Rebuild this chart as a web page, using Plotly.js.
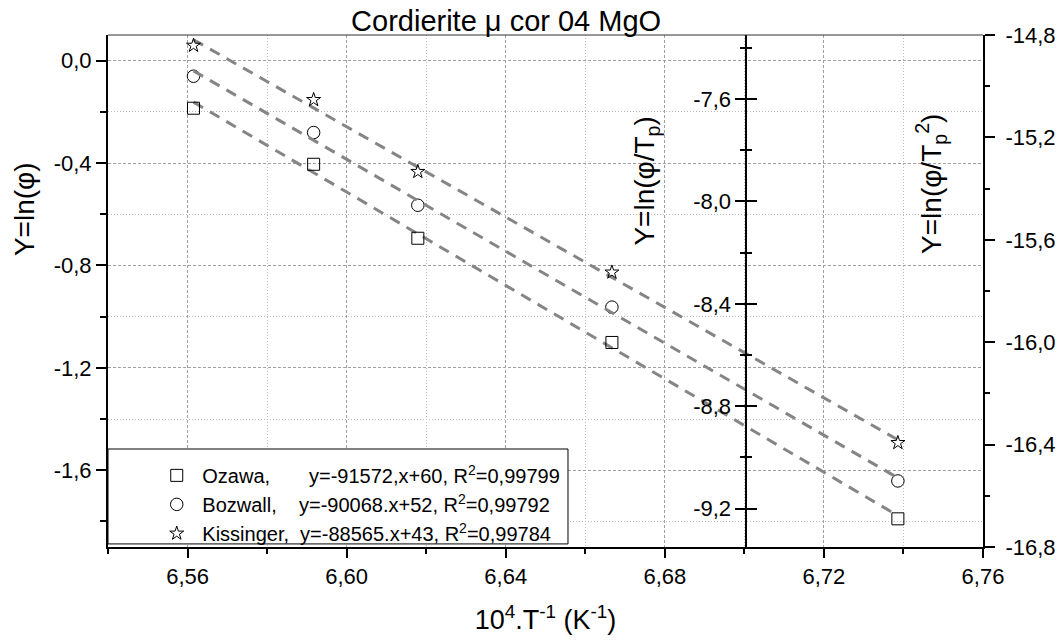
<!DOCTYPE html>
<html><head><meta charset="utf-8">
<script src="https://cdn.plot.ly/plotly-3.0.1.min.js"></script>
<style>html,body{margin:0;padding:0;background:#fff}</style>
</head><body><div id="chart" style="width:1063px;height:643px"></div>
<script>
// ---- data ----
const invT = [6.5615, 6.5917, 6.6179, 6.6667, 6.7386];          // 10^4 / T  (K^-1)
const ozawa = [-0.186, -0.405, -0.694, -1.101, -1.790];          // ln(phi)        left axis
const bozwall = [-7.511, -7.731, -8.015, -8.413, -9.092];        // ln(phi/Tp)     middle axis
const kissinger = [-14.841, -15.053, -15.334, -15.727, -16.393]; // ln(phi/Tp^2)   right axis

const methodNames = ['Ozawa,', 'Bozwall,', 'Kissinger,'];
const methodGaps = [7, 4, 2];
const fitTexts = ['y=-91572,x+60, R<sup>2</sup>=0,99799',
                  'y=-90068.x+52, R<sup>2</sup>=0,99792',
                  'y=-88565.x+43, R<sup>2</sup>=0,99784'];

const xTickVals = [6.56, 6.60, 6.64, 6.68, 6.72, 6.76];
const xTickText = ['6,56', '6,60', '6,64', '6,68', '6,72', '6,76'];
const xMinorVals = [6.54, 6.58, 6.62, 6.66, 6.70, 6.74];
const y1TickVals = [0.0, -0.4, -0.8, -1.2, -1.6];
const y1TickText = ['0,0', '-0,4', '-0,8', '-1,2', '-1,6'];
const y1MinorVals = [-0.2, -0.6, -1.0, -1.4, -1.8];
const y2TickVals = [-7.6, -8.0, -8.4, -8.8, -9.2];
const y2TickText = ['-7,6', '-8,0', '-8,4', '-8,8', '-9,2'];
const y2MinorVals = [-7.4, -7.8, -8.2, -8.6, -9.0];
const y3TickVals = [-14.8, -15.2, -15.6, -16.0, -16.4, -16.8];
const y3TickText = ['-14,8', '-15,2', '-15,6', '-16,0', '-16,4', '-16,8'];
const y3MinorVals = [-15.0, -15.4, -15.8, -16.2, -16.6];

// ---- helpers ----
function linFit(xs, ys) {
  const n = xs.length;
  let sx = 0, sy = 0, sxx = 0, sxy = 0;
  for (let i = 0; i < n; i++) { sx += xs[i]; sy += ys[i]; sxx += xs[i]*xs[i]; sxy += xs[i]*ys[i]; }
  const m = (n*sxy - sx*sy) / (n*sxx - sx*sx);
  const b = (sy - m*sx) / n;
  return {m, b};
}
function fitTrace(ys, yaxis) {
  const f = linFit(invT, ys);
  const xe = [invT[0], invT[invT.length-1]];
  return {x: xe, y: xe.map(v => f.m*v + f.b), yaxis: yaxis, mode: 'lines', showlegend: false,
          hoverinfo: 'skip', line: {color: '#858585', width: 3, dash: '11px,8px'}};
}
const nb = n => '\u00A0'.repeat(n);
function legendName(i) { return nb(1) + methodNames[i] + nb(methodGaps[i]) + fitTexts[i]; }

const FONT = 'Arial, "Liberation Sans", sans-serif';
const markerLine = {color: 'black', width: 1};

const traces = [
  {x: invT, y: ozawa, yaxis: 'y', mode: 'markers', name: legendName(0),
   marker: {symbol: 'square-open', size: 12, color: 'black', line: markerLine}},
  {x: invT, y: bozwall, yaxis: 'y2', mode: 'markers', name: legendName(1),
   marker: {symbol: 'circle-open', size: 12.5, color: 'black', line: markerLine}},
  {x: invT, y: kissinger, yaxis: 'y3', mode: 'markers', name: legendName(2),
   marker: {symbol: 'star-open', size: 10.5, color: 'black', line: markerLine}},
  fitTrace(ozawa, 'y'),
  fitTrace(bozwall, 'y4'),
  fitTrace(kissinger, 'y3'),
];
// draw fits beneath markers
const ordered = [traces[3], traces[4], traces[5], traces[0], traces[1], traces[2]];

const tickCommon = {ticks: 'outside', tickwidth: 2, tickcolor: 'black', showline: true, linewidth: 2,
  linecolor: 'black', zeroline: false, tickfont: {size: 22, color: 'black', family: FONT}, tickmode: 'array'};

const midPos = 0.7297;
const layout = {
  width: 1063, height: 643,
  margin: {l: 108, r: 80, t: 35, b: 96},
  paper_bgcolor: 'white', plot_bgcolor: 'white',
  font: {family: FONT, color: 'black'},
  showlegend: true,
  title: {text: 'Cordierite \u03bc cor 04 MgO', font: {size: 29, color: 'black', family: FONT},
          x: 0.455, xref: 'paper', xanchor: 'center', y: 0.968, yref: 'container', yanchor: 'middle'},
  xaxis: Object.assign({}, tickCommon, {
    range: [6.54, 6.76], tickvals: xTickVals, ticktext: xTickText, ticklen: 9,
    showgrid: true, gridcolor: '#a0a0a0', griddash: '3px,2px', gridwidth: 1,
    minor: {tickmode: 'array', tickvals: xMinorVals, ticks: 'outside', ticklen: 5, tickwidth: 2,
            tickcolor: 'black', showgrid: true, gridcolor: '#bdbdbd', griddash: '1px,2px', gridwidth: 1},
    title: {text: '10<sup>4</sup>.T<sup>-1</sup> (K<sup>-1</sup>)', font: {size: 27, family: FONT, color: 'black'}, standoff: 22}
  }),
  yaxis: Object.assign({}, tickCommon, {
    range: [-1.9, 0.1], tickvals: y1TickVals, ticktext: y1TickText, ticklen: 10,
    showgrid: true, gridcolor: '#a0a0a0', griddash: '3px,2px', gridwidth: 1,
    minor: {tickmode: 'array', tickvals: y1MinorVals, ticks: 'outside', ticklen: 6, tickwidth: 2,
            tickcolor: 'black', showgrid: true, gridcolor: '#bdbdbd', griddash: '1px,2px', gridwidth: 1}
  }),
  yaxis2: Object.assign({}, tickCommon, {
    overlaying: 'y', anchor: 'free', position: midPos, side: 'left',
    range: [-9.35, -7.35], tickvals: y2TickVals, ticktext: y2TickText, ticklen: 10, showgrid: false,
    minor: {tickmode: 'array', tickvals: y2MinorVals, ticks: 'outside', ticklen: 5, tickwidth: 2, tickcolor: 'black', showgrid: false}
  }),
  yaxis4: Object.assign({}, tickCommon, {
    overlaying: 'y', anchor: 'free', position: midPos, side: 'left', ticks: 'inside',
    range: [-9.35, -7.35], tickvals: y2TickVals, ticktext: y2TickText, ticklen: 10, showgrid: false,
    showticklabels: false,
    minor: {tickmode: 'array', tickvals: y2MinorVals, ticks: 'inside', ticklen: 5, tickwidth: 2, tickcolor: 'black', showgrid: false}
  }),
  yaxis3: Object.assign({}, tickCommon, {
    overlaying: 'y', anchor: 'x', side: 'right', ticklabelstandoff: 6,
    range: [-16.8, -14.8], tickvals: y3TickVals, ticktext: y3TickText, ticklen: 10, showgrid: false,
    minor: {tickmode: 'array', tickvals: y3MinorVals, ticks: 'outside', ticklen: 5, tickwidth: 2, tickcolor: 'black', showgrid: false}
  }),
  legend: {x: 0.0557, y: 0.178, xanchor: 'left', yanchor: 'top', bgcolor: 'rgba(0,0,0,0)', borderwidth: 0,
           font: {size: 20, family: FONT, color: 'black'}, traceorder: 'normal'},
  shapes: [
    {type: 'line', xref: 'paper', yref: 'paper', x0: 0, x1: 1, y0: 1, y1: 1, line: {color: '#333', width: 1}},
    {type: 'rect', xref: 'paper', yref: 'paper', x0: 0, x1: 0.5257, y0: 0.006, y1: 0.1914,
     line: {color: 'black', width: 1}, fillcolor: 'white', layer: 'above'}
  ],
  annotations: [
    {text: 'Y=ln(\u03c6)', xref: 'paper', yref: 'paper', x: -0.096, y: 0.660, textangle: -90,
     showarrow: false, xanchor: 'center', yanchor: 'middle', font: {size: 28, family: FONT, color: 'black'}},
    {text: 'Y=ln(\u03c6/T<sub>p</sub>)', xref: 'paper', yref: 'paper', x: 0.616, y: 0.7137, textangle: -90,
     showarrow: false, xanchor: 'center', yanchor: 'middle', font: {size: 28, family: FONT, color: 'black'}},
    {text: 'Y=ln(\u03c6/T<sub>p</sub><sup>2</sup>)', xref: 'paper', yref: 'paper', x: 0.9405, y: 0.709, textangle: -90,
     showarrow: false, xanchor: 'center', yanchor: 'middle', font: {size: 28, family: FONT, color: 'black'}}
  ]
};

Plotly.newPlot('chart', ordered, layout, {displayModeBar: false, staticPlot: true});
</script>
</body></html>
